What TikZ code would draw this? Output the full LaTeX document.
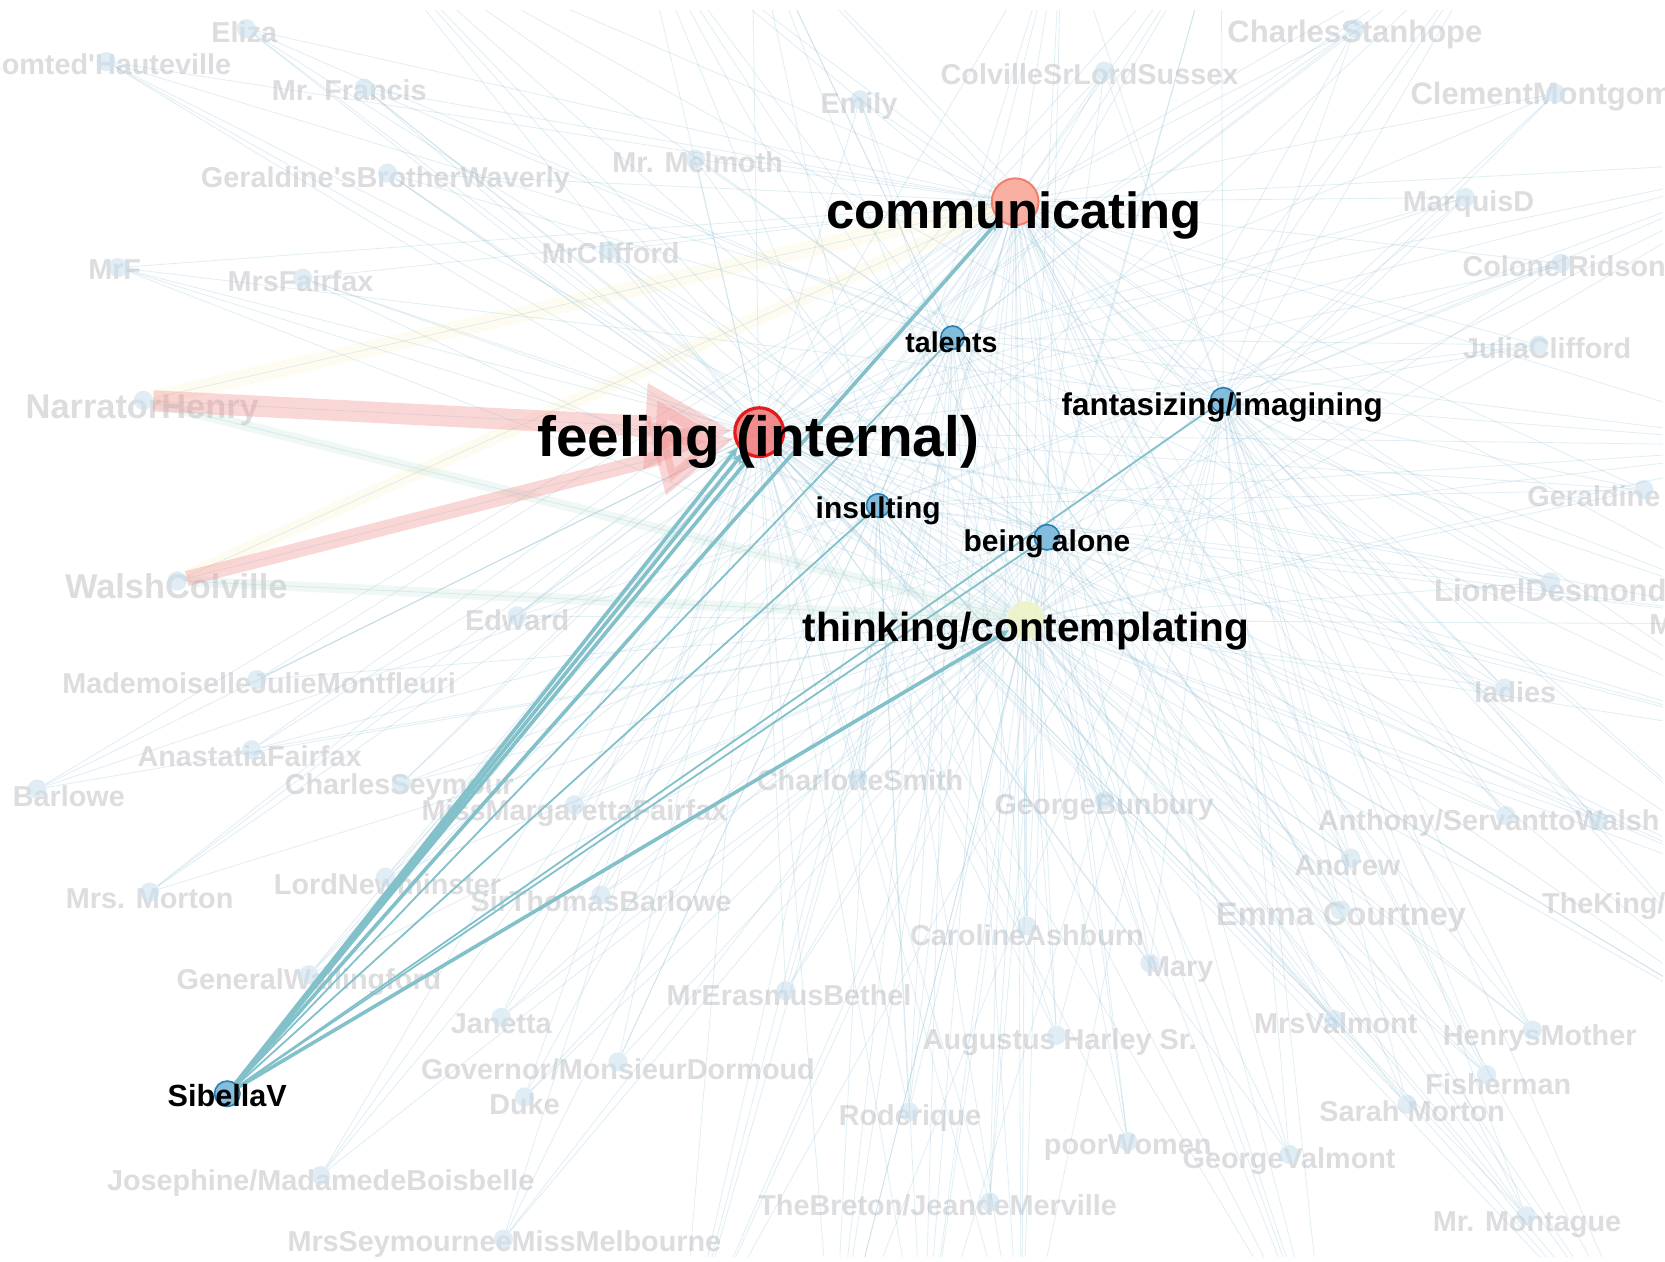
\documentclass[tikz,border=0pt]{standalone}
\usepackage{fontspec}
\setmainfont{Liberation Sans}
\usetikzlibrary{arrows.meta}
\definecolor{edgeblue}{RGB}{140,190,212}
\definecolor{fadenode}{RGB}{205,225,238}
\definecolor{fadetext}{RGB}{221,221,224}
\definecolor{hlteal}{RGB}{130,192,202}
\definecolor{pinkband}{RGB}{242,150,150}
\definecolor{yelband}{RGB}{250,230,150}
\definecolor{grnband}{RGB}{180,220,205}
\definecolor{commfill}{RGB}{248,168,152}
\definecolor{commline}{RGB}{240,128,108}
\definecolor{feelfill}{RGB}{240,112,112}
\definecolor{feelline}{RGB}{226,28,28}
\definecolor{thinkfill}{RGB}{234,243,196}
\definecolor{bluefill}{RGB}{112,178,216}
\definecolor{blueline}{RGB}{40,128,178}
\pgfdeclarelayer{fadelayer}
\pgfdeclarelayer{edgelayer}
\pgfsetlayers{fadelayer,edgelayer,main}
\tikzset{
  fn/.style={circle,fill=fadenode,fill opacity=0.6,inner sep=0pt,minimum size=9.6pt},
  fl/.style={text=fadetext,inner sep=0pt,font=\bfseries\fontsize{14.4pt}{16pt}\selectfont},
  flb/.style={font=\bfseries\fontsize{17.2pt}{19pt}\selectfont},
  flm/.style={font=\bfseries\fontsize{15.5pt}{17pt}\selectfont},
  fle/.style={font=\bfseries\fontsize{16.3pt}{18pt}\selectfont},
  fe/.style={draw=edgeblue,draw opacity=0.26,line width=0.42pt},
  bn/.style={circle,fill=bluefill,fill opacity=0.85,draw=blueline,line width=0.8pt,inner sep=0pt,minimum size=12pt},
  lab/.style={text=black,inner sep=0pt},
  hl/.style={draw=hlteal,line width=1.8pt,-{Stealth[length=6pt,width=5pt]}},
  hlt/.style={draw=hlteal,line width=0.9pt},
  pb/.style={draw=pinkband,opacity=0.38},
}
\newcommand\fadenode[5]{\node[fl,#3] (#1-l) at (#4) {#5}; \node[fn] (#1) at (#2) {};}
\begin{document}
\begin{tikzpicture}[x=0.53095pt,y=-0.53095pt]
\useasboundingbox (0,0) rectangle (1568,1188);
\begin{pgfonlayer}{fadelayer}
\fill[white] (0,0) rectangle (1568,1188);
\fadenode{eliza}{232,27}{}{230,30}{Eliza}
\fadenode{haute}{100,58}{anchor=east}{218,60}{Comted\textquotesingle Hauteville}
\fadenode{francis}{343,83}{}{329,85}{Mr. Francis}
\fadenode{gbw}{365,163}{}{363,170}{Geraldine\textquotesingle sBrotherWaverly}
\fadenode{mrf}{111,252}{}{108,254}{MrF}
\fadenode{mrsfair}{285,262}{}{283,265}{MrsFairfax}
\fadenode{narr}{135,377}{flb}{134,386}{NarratorHenry}
\fadenode{clifford}{573,236}{}{575,238}{MrClifford}
\fadenode{melmoth}{655,150}{}{657,153}{Mr. Melmoth}
\fadenode{emily}{810,94}{}{809,100}{Emily}
\fadenode{colv}{1040,67}{}{1026,70}{ColvilleSrLordSussex}
\fadenode{stanhope}{1276,27}{flm}{1276,32}{CharlesStanhope}
\fadenode{clement}{1465,88}{flm,anchor=west}{1328,91}{ClementMontgomery}
\fadenode{marquis}{1380,186}{}{1383,192}{MarquisD}
\fadenode{ridson}{1470,248}{}{1473,251}{ColonelRidson}
\fadenode{julia}{1449,325}{}{1457,328}{JuliaClifford}
\fadenode{geraldine}{1548,461}{}{1501,467}{Geraldine}
\fadenode{lionel}{1460,548}{flm}{1460,556}{LionelDesmond}
\node[fl,anchor=west] (mcut) at (1553,588) {M};
\fadenode{ladies}{1417,648}{}{1427,652}{ladies}
\fadenode{anthony}{1418,768}{}{1402,775}{Anthony/ServanttoWalsh}
\node[fn] (anth2) at (1505,773) {};
\fadenode{andrew}{1272,808}{}{1269,815}{Andrew}
\node[fl,anchor=west] (theking) at (1452,853) {TheKing/};
\fadenode{emma}{1262,857}{fle}{1263,864}{Emma Courtney}
\fadenode{mary}{1083,907}{}{1111,913}{Mary}
\fadenode{caroline}{967,872}{}{967,881}{CarolineAshburn}
\fadenode{bunbury}{1040,754}{}{1040,760}{GeorgeBunbury}
\fadenode{charlotte}{808,733}{}{810,735}{CharlotteSmith}
\fadenode{margaretta}{541,758}{}{541,766}{MissMargarettaFairfax}
\fadenode{seymour}{378,738}{}{376,741}{CharlesSeymour}
\fadenode{anastatia}{237,706}{}{235,712}{AnastatiaFairfax}
\fadenode{barlowe}{35,743}{anchor=east}{118,750}{Barlowe}
\fadenode{morton}{141,840}{}{141,846}{Mrs. Morton}
\fadenode{newminster}{363,826}{}{365,833}{LordNewminster}
\fadenode{thomas}{566,843}{}{566,849}{SirThomasBarlowe}
\fadenode{wallingford}{291,918}{}{291,925}{GeneralWallingford}
\fadenode{janetta}{472,958}{}{472,964}{Janetta}
\fadenode{governor}{582,1000}{}{582,1007}{Governor/MonsieurDormoud}
\fadenode{duke}{494,1033}{}{494,1040}{Duke}
\fadenode{erasmus}{740,933}{}{743,937}{MrErasmusBethel}
\fadenode{augustus}{995,975}{}{998,981}{Augustus Harley Sr.}
\fadenode{mrsvalmont}{1256,960}{}{1258,964}{MrsValmont}
\fadenode{henrys}{1443,970}{}{1450,978}{HenrysMother}
\fadenode{fisherman}{1400,1012}{}{1411,1021}{Fisherman}
\fadenode{sarah}{1325,1040}{}{1330,1046}{Sarah Morton}
\fadenode{roderique}{856,1047}{}{857,1053}{Roderique}
\fadenode{poorwomen}{1062,1075}{}{1062,1081}{poorWomen}
\fadenode{gvalmont}{1214,1087}{}{1214,1093}{GeorgeValmont}
\fadenode{josephine}{302,1107}{}{302,1114}{Josephine/MadamedeBoisbelle}
\fadenode{breton}{932,1132}{}{883,1135}{TheBreton/JeandeMerville}
\fadenode{mrsseymour}{474,1167}{}{475,1172}{MrsSeymourneeMissMelbourne}
\fadenode{montague}{1437,1145}{}{1438,1153}{Mr. Montague}
\fadenode{edward}{487,580}{}{487,584}{Edward}
\fadenode{walsh}{167,547}{flb}{166,552}{WalshColville}
\fadenode{julie}{242,640}{}{244,643}{MademoiselleJulieMontfleuri}
\end{pgfonlayer}
% off-canvas neighbours
\coordinate (o1) at (708,-80);
\coordinate (o2) at (600,-80);
\coordinate (o3) at (1150,-80);
\coordinate (o4) at (1420,-80);
\coordinate (o5) at (1700,150);
\coordinate (o6) at (1700,420);
\coordinate (o7) at (1700,700);
\coordinate (o8) at (1700,1000);
\coordinate (o9) at (1560,1300);
\coordinate (o10) at (1250,1300);
\coordinate (o11) at (962,1300);
\coordinate (o12) at (785,1300);
\coordinate (o13) at (640,1300);
\coordinate (o16) at (330,-80);
\coordinate (o17) at (1700,853);
\coordinate (o18) at (1700,588);
\coordinate (o19) at (1000,-80);
\coordinate (o20) at (870,1300);
% focal nodes
\node[circle,fill=commfill,fill opacity=0.9,draw=commline,line width=1pt,minimum size=23.4pt,inner sep=0pt] (comm) at (956,190) {};
\node[circle,fill=feelfill,fill opacity=0.8,draw=feelline,line width=1.6pt,minimum size=24.4pt,inner sep=0pt] (feel) at (715,407) {};
\node[circle,fill=thinkfill,fill opacity=0.85,minimum size=19pt,inner sep=0pt] (think) at (966,584) {};
\node[bn,minimum size=11.7pt] (talents) at (897,318) {};
\node[bn,minimum size=12.7pt] (fant) at (1152,377) {};
\node[bn,minimum size=11.7pt] (insult) at (827,476) {};
\node[bn,minimum size=12.7pt] (alone) at (986,506) {};
\node[bn,minimum size=12.7pt] (sib) at (214,1030) {};
\node[lab,font=\bfseries\fontsize{25.4pt}{28pt}\selectfont] (comm-l) at (955,203) {communicating};
\node[lab,font=\bfseries\fontsize{28.4pt}{31pt}\selectfont] (feel-l) at (714,416) {feeling (internal)};
\node[lab,font=\bfseries\fontsize{20.3pt}{23pt}\selectfont] (think-l) at (966,594) {thinking/contemplating};
\node[lab,font=\bfseries\fontsize{14.3pt}{16pt}\selectfont] (talents-l) at (896,322) {talents};
\node[lab,font=\bfseries\fontsize{15.7pt}{17pt}\selectfont] (fant-l) at (1151,384) {fantasizing/imagining};
\node[lab,font=\bfseries\fontsize{15pt}{17pt}\selectfont] (insult-l) at (827,481) {insulting};
\node[lab,font=\bfseries\fontsize{15pt}{17pt}\selectfont] (alone-l) at (986,512) {being alone};
\node[lab,font=\bfseries\fontsize{15.3pt}{17pt}\selectfont] (sib-l) at (214,1032) {SibellaV};
\begin{pgfonlayer}{edgelayer}
\begin{scope}
\clip (0,10) rectangle (1566,1183);
\foreach \n in {eliza,haute,francis,gbw,mrf,mrsfair,narr,clifford,melmoth,emily,colv,stanhope,clement,marquis,ridson,julia,geraldine,lionel,ladies,anthony,anth2,andrew,emma,mary,caroline,bunbury,charlotte,margaretta,seymour,anastatia,barlowe,morton,newminster,thomas,wallingford,janetta,governor,duke,erasmus,augustus,mrsvalmont,henrys,fisherman,sarah,roderique,poorwomen,gvalmont,josephine,breton,mrsseymour,montague,edward,walsh,julie}{
  \draw[fe] (\n) -- (comm);
  \draw[fe] (\n) -- (feel);
  \draw[fe] (\n) -- (think);
}
\foreach \n in {eliza,francis,gbw,melmoth,emily,colv,stanhope,marquis,julia,ladies,emma,mary,caroline,charlotte,edward,julie,morton,wallingford,governor,roderique,mrsvalmont,henrys}{
  \draw[fe] (\n) -- (talents);
}
\foreach \n in {clement,ridson,julia,geraldine,lionel,anthony,andrew,henrys,fisherman,sarah,gvalmont,montague,emma,augustus,mary,stanhope,colv,haute,mrf,ladies,anth2}{
  \draw[fe] (\n) -- (fant);
}
\foreach \n in {haute,eliza,mrsfair,clifford,seymour,anastatia,thomas,janetta,duke,erasmus,breton,poorwomen,caroline,bunbury,marquis,andrew,fisherman,montague,mrsseymour}{
  \draw[fe] (\n) -- (alone);
}
\foreach \n in {francis,gbw,mrf,newminster,margaretta,josephine,charlotte,roderique,augustus,mrsvalmont,sarah,ridson,lionel,geraldine,barlowe,edward}{
  \draw[fe] (\n) -- (insult);
}
\foreach \o in {o1,o2,o3,o4,o5,o6,o7,o8,o9,o10,o11,o12,o13,o16,o17,o18,o19,o20}{
  \foreach \h in {comm,feel,think,talents,fant,alone,insult}{
    \draw[fe] (\o) -- (\h);
  }
}
\end{scope}
% broad coloured edges
\draw[draw=yelband,opacity=0.13,line width=8pt] (narr) -- (comm);
\draw[draw=yelband,opacity=0.13,line width=7pt] (walsh) -- (comm);
\draw[draw=grnband,opacity=0.2,line width=5pt] (narr) -- (think);
\draw[draw=grnband,opacity=0.2,line width=5pt] (walsh) -- (think);
\draw[pb,line width=10.6pt,-{Triangle[length=44pt,width=40pt]}] (narr) -- (feel);
\draw[pb,line width=7.5pt,-{Triangle[length=40pt,width=36pt]}] (walsh) -- (feel);
% SibellaV ego edges
\draw[hl] (sib) -- (feel.250);
\draw[hl] (sib) -- (feel.232);
\draw[hl] (sib) -- (feel.215);
\draw[hl] (sib) -- (comm);
\draw[hl] (sib) -- (think);
\draw[hlt] (sib) -- (talents);
\draw[hlt] (sib) -- (insult);
\draw[hlt] (sib) -- (alone);
\draw[hlt] (sib) -- (fant);
\end{pgfonlayer}
\end{tikzpicture}
\end{document}
